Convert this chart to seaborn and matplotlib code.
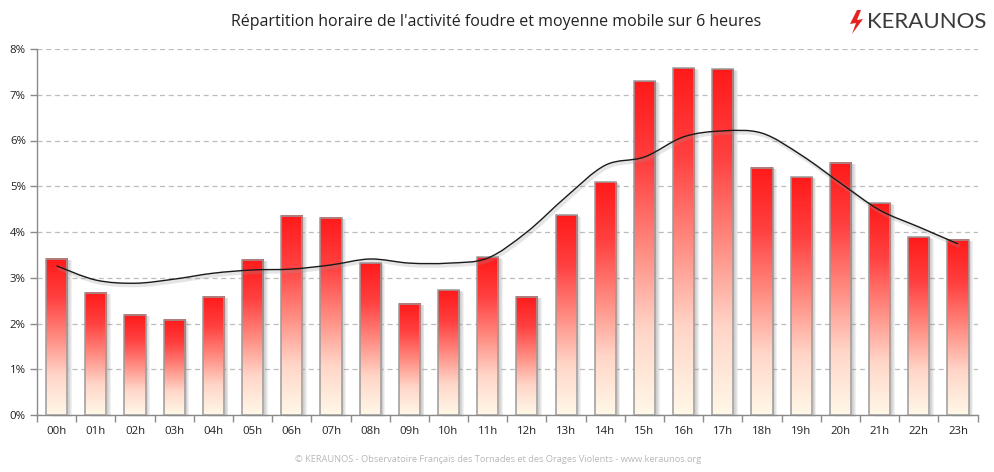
import numpy as np
import pandas as pd
import seaborn as sns
import matplotlib
matplotlib.use("Agg")
import matplotlib.pyplot as plt
from matplotlib.colors import LinearSegmentedColormap
from matplotlib.patches import Rectangle, PathPatch, Polygon
from matplotlib.path import Path
import matplotlib.transforms as mtransforms

hours = [f"{h:02d}h" for h in range(24)]
activity = [3.41, 2.67, 2.19, 2.08, 2.58, 3.39, 4.35, 4.31, 3.32, 2.43, 2.73, 3.45,
            2.58, 4.37, 5.09, 7.30, 7.58, 7.56, 5.40, 5.20, 5.51, 4.63, 3.89, 3.83]
moving_avg = [3.26, 2.95, 2.88, 2.97, 3.10, 3.17, 3.19, 3.28, 3.41, 3.32, 3.32, 3.43,
              4.00, 4.77, 5.46, 5.64, 6.08, 6.21, 6.16, 5.68, 5.07, 4.48, 4.11, 3.74]
yticks = [0, 1, 2, 3, 4, 5, 6, 7, 8]
ytick_labels = [f"{v}%" for v in yticks]

title = "Répartition horaire de l'activité foudre et moyenne mobile sur 6 heures"
footer = "© KERAUNOS - Observatoire Français des Tornades et des Orages Violents - www.keraunos.org"

sns.set_theme(style="white")
plt.rcParams["font.family"] = ["Open Sans", "DejaVu Sans"]

fig = plt.figure(figsize=(9.94, 4.72), dpi=100)
ax = fig.add_axes([37 / 994, 57 / 472, 940.6 / 994, 366 / 472])

df = pd.DataFrame({"hour": hours, "activity": activity})
sns.barplot(data=df, x="hour", y="activity", ax=ax, width=0.54, color="white",
            edgecolor="#9a9a9a", linewidth=1.1, zorder=4)

cmap = LinearSegmentedColormap.from_list(
    "grad", ["#fff8e8", "#ffd6c8", "#ff8a80", "#ff4040", "#ff1a1a"])
grad = np.linspace(0, 1, 256).reshape(-1, 1)

for p in ax.patches:
    x0, w, h = p.get_x(), p.get_width(), p.get_height()
    p.set_facecolor("none")
    ax.imshow(grad, extent=[x0, x0 + w, 0, h], aspect="auto", cmap=cmap,
              origin="lower", zorder=3, interpolation="bilinear")
    for k in range(1, 6):
        tr = ax.transData + mtransforms.ScaledTranslation(k * 0.9 / 100, -k * 0.3 / 100,
                                                          fig.dpi_scale_trans)
        ax.add_patch(Rectangle((x0, 0), w, h, transform=tr, facecolor="#808080",
                               alpha=0.11, edgecolor="none", zorder=2, clip_on=False))

# smoothed moving average line (Catmull-Rom rendered as Bezier curves)
xs = np.arange(len(moving_avg), dtype=float)
ys = np.array(moving_avg, dtype=float)
P = np.column_stack([xs, ys])
Pe = np.vstack([P[0], P, P[-1]])
verts = [tuple(P[0])]
codes = [Path.MOVETO]
for i in range(len(P) - 1):
    p0, p1, p2, p3 = Pe[i], Pe[i + 1], Pe[i + 2], Pe[i + 3]
    c1 = p1 + (p2 - p0) / 6.0
    c2 = p2 - (p3 - p1) / 6.0
    verts += [tuple(c1), tuple(c2), tuple(p2)]
    codes += [Path.CURVE4] * 3
path = Path(verts, codes)
sh_tr = ax.transData + mtransforms.ScaledTranslation(1.5 / 100, -2 / 100, fig.dpi_scale_trans)
ax.add_patch(PathPatch(path, facecolor="none", edgecolor="#999999", alpha=0.25,
                       linewidth=3, transform=sh_tr, zorder=5))
ax.add_patch(PathPatch(path, facecolor="none", edgecolor="#1a1a1a", linewidth=1.0, zorder=6))

ax.set_xlim(-0.5, 23.5)
ax.set_ylim(0, 8)
ax.set_yticks(yticks)
ax.set_yticklabels(ytick_labels)
ax.set_xlabel("")
ax.set_ylabel("")
ax.set_axisbelow(True)
ax.yaxis.grid(True, linestyle=(0, (4, 3)), color="#bdbdbd", linewidth=0.9, zorder=0)
ax.xaxis.grid(False)
for s in ["top", "right"]:
    ax.spines[s].set_visible(False)
for s in ["left", "bottom"]:
    ax.spines[s].set_color("#8a8a8a")
    ax.spines[s].set_linewidth(1.0)
ax.set_xticks(np.arange(-0.5, 24, 1), minor=True)
ax.tick_params(axis="x", which="major", length=0, labelsize=8.2, colors="#222222", pad=8)
ax.tick_params(axis="x", which="minor", length=5, color="#8a8a8a", width=1, direction="out", bottom=True)
ax.tick_params(axis="y", length=5, color="#8a8a8a", width=1, labelsize=8.2,
               labelcolor="#222222", direction="out", left=True, pad=3)
for lab in ax.get_xticklabels():
    lab.set_color("#222222")

fig.text(496 / 994, 1 - 22 / 472, title, ha="center", va="center", fontsize=11.5,
         color="#222222")
fig.text(498 / 994, 1 - 459 / 472, footer, ha="center", va="center", fontsize=6.7,
         color="#b8b8b8")

# logo
bolt = np.array([[857, 10], [850, 24], [856, 23], [852, 34], [863, 19], [857, 20], [861, 10]], dtype=float)
bolt_fig = np.column_stack([bolt[:, 0] / 994, 1 - bolt[:, 1] / 472])
fig.patches.append(Polygon(bolt_fig, closed=True, transform=fig.transFigure,
                           facecolor="#e52222", edgecolor="none"))
fig.text(867 / 994, 1 - 22 / 472, "KERAUNOS", ha="left", va="center", fontsize=16,
         color="#3a3a3a", family=["Lato", "DejaVu Sans"])

fig.savefig("out.png", dpi=100)
